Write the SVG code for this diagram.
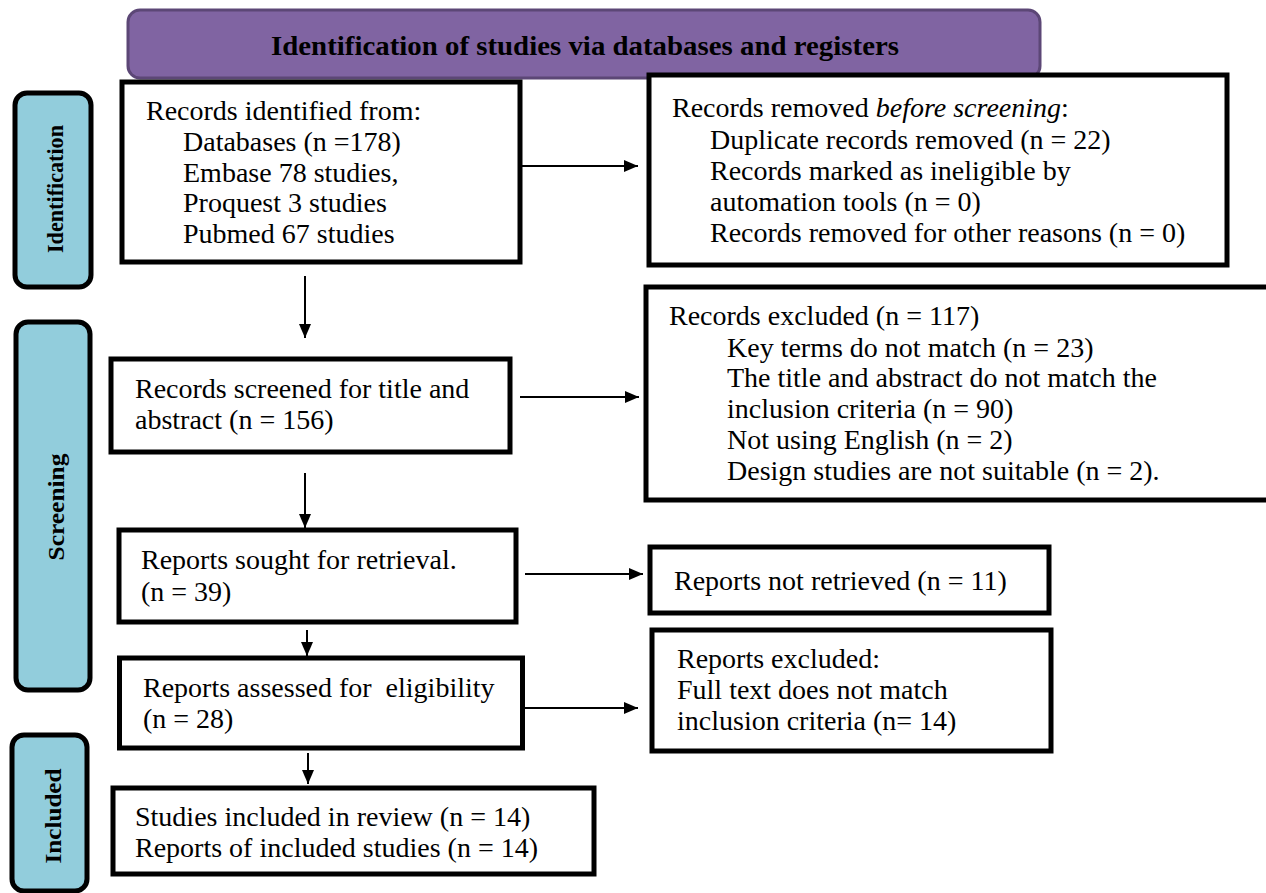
<svg xmlns="http://www.w3.org/2000/svg" width="1266" height="893" viewBox="0 0 1266 893">
<defs>
<marker id="ah" markerWidth="14" markerHeight="12" refX="14" refY="6" orient="auto" markerUnits="userSpaceOnUse"><path d="M0,0 L14,6 L0,12 Z" fill="#000"/></marker>
<style>
.box{fill:#fff;stroke:#000;stroke-width:5}
.side{fill:#92CDDC;stroke:#000;stroke-width:5}
.t{font-family:"Liberation Serif","DejaVu Serif",serif;font-size:28px;fill:#000}
.sl{font-family:"Liberation Serif","DejaVu Serif",serif;font-size:23px;font-weight:bold;fill:#000}
.hd{font-family:"Liberation Serif","DejaVu Serif",serif;font-size:28px;font-weight:bold;fill:#000}
.c{stroke:#000;stroke-width:2;fill:none;marker-end:url(#ah)}
</style>
</defs>
<g id="header"><rect x="128" y="10" width="912" height="68" rx="12" fill="#8064A2" stroke="#5C4776" stroke-width="3"/><text class="hd" x="585" y="55" text-anchor="middle" textLength="628" lengthAdjust="spacingAndGlyphs">Identification of studies via databases and registers</text></g>
<g id="lbl-identification"><rect class="side" x="15" y="93" width="76" height="194" rx="12"/><text class="sl" transform="translate(63,189) rotate(-90)" text-anchor="middle" textLength="128" lengthAdjust="spacingAndGlyphs">Identification</text></g>
<g id="lbl-screening"><rect class="side" x="16" y="322" width="74" height="368" rx="12"/><text class="sl" transform="translate(64,507) rotate(-90)" text-anchor="middle" textLength="107" lengthAdjust="spacingAndGlyphs">Screening</text></g>
<g id="lbl-included"><rect class="side" x="12" y="735" width="75" height="156" rx="12"/><text class="sl" transform="translate(61,816) rotate(-90)" text-anchor="middle" textLength="95" lengthAdjust="spacingAndGlyphs">Included</text></g>
<g id="n-identified"><rect class="box" x="122" y="82" width="398" height="180"/>
<text class="t" x="146" y="120">Records identified from:</text>
<text class="t" x="183" y="151">Databases (n =178)</text>
<text class="t" x="183" y="182">Embase 78 studies,</text>
<text class="t" x="183" y="212">Proquest 3 studies</text>
<text class="t" x="183" y="243">Pubmed 67 studies</text></g>
<g id="n-removed"><rect class="box" x="649" y="75" width="578" height="190"/>
<text class="t" x="672" y="117">Records removed <tspan font-style="italic">before screening</tspan>:</text>
<text class="t" x="710" y="149">Duplicate records removed (n = 22)</text>
<text class="t" x="710" y="180">Records marked as ineligible by</text>
<text class="t" x="710" y="211">automation tools (n = 0)</text>
<text class="t" x="710" y="242">Records removed for other reasons (n = 0)</text></g>
<g id="n-screened"><rect class="box" x="111" y="359" width="399" height="93"/>
<text class="t" x="135" y="398">Records screened for title and</text>
<text class="t" x="135" y="429">abstract (n = 156)</text></g>
<g id="n-excluded"><rect class="box" x="646" y="287" width="630" height="213"/>
<text class="t" x="669" y="325">Records excluded (n = 117)</text>
<text class="t" x="727" y="357">Key terms do not match (n = 23)</text>
<text class="t" x="727" y="387">The title and abstract do not match the</text>
<text class="t" x="727" y="418">inclusion criteria (n = 90)</text>
<text class="t" x="727" y="449">Not using English (n = 2)</text>
<text class="t" x="727" y="480">Design studies are not suitable (n = 2).</text></g>
<g id="n-sought"><rect class="box" x="119" y="530" width="397" height="92"/>
<text class="t" x="141" y="569">Reports sought for retrieval.</text>
<text class="t" x="141" y="601">(n = 39)</text></g>
<g id="n-notretrieved"><rect class="box" x="650" y="547" width="399" height="66"/>
<text class="t" x="674" y="590">Reports not retrieved (n = 11)</text></g>
<g id="n-assessed"><rect class="box" x="119.5" y="658" width="403" height="90"/>
<text class="t" x="143" y="697" xml:space="preserve">Reports assessed for  eligibility</text>
<text class="t" x="143" y="728">(n = 28)</text></g>
<g id="n-repexcluded"><rect class="box" x="652" y="630" width="399" height="121"/>
<text class="t" x="677" y="668">Reports excluded:</text>
<text class="t" x="677" y="699">Full text does not match</text>
<text class="t" x="677" y="730">inclusion criteria (n= 14)</text></g>
<g id="n-included"><rect class="box" x="113" y="788" width="481" height="86"/>
<text class="t" x="135" y="826">Studies included in review (n = 14)</text>
<text class="t" x="135" y="857">Reports of included studies (n = 14)</text></g>
<g id="connectors">
<line class="c" x1="522" y1="166" x2="638" y2="166"/>
<line class="c" x1="305" y1="276" x2="305" y2="338"/>
<line class="c" x1="520" y1="397" x2="639" y2="397"/>
<line class="c" x1="305" y1="473" x2="305" y2="528"/>
<line class="c" x1="525" y1="574" x2="643" y2="574"/>
<line class="c" x1="307" y1="630" x2="307" y2="656"/>
<line class="c" x1="522" y1="708" x2="638" y2="708"/>
<line class="c" x1="308" y1="753" x2="308" y2="784"/>
</g>
</svg>
